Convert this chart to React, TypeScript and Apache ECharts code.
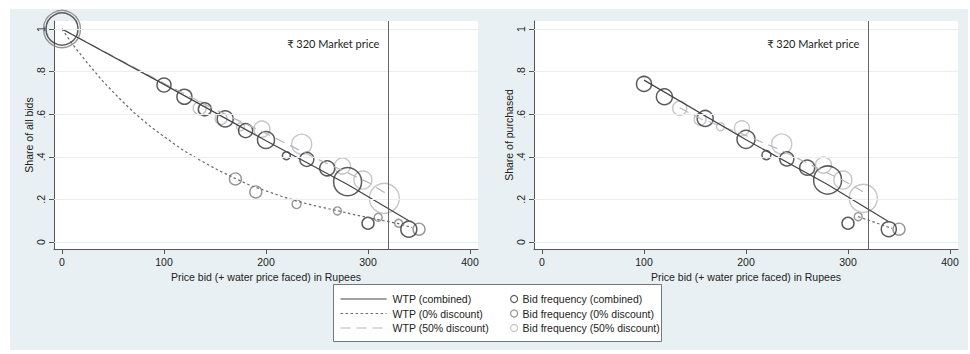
import React, { useEffect, useRef } from "react";
import * as echarts from "echarts";

// ---------- data ----------
const xTicks = [0, 100, 200, 300, 400];
const yTicks = [0, 0.2, 0.4, 0.6, 0.8, 1];
const yTickLabels = ["0", ".2", ".4", ".6", ".8", "1"];
const marketPrice = 320;
const marketLabel = "₹ 320 Market price";
const xTitle = "Price bid (+ water price faced) in Rupees";
const leftYTitle = "Share of all bids";
const rightYTitle = "Share of purchased";

const NAME_WTP_C = "WTP (combined)";
const NAME_WTP_0 = "WTP (0% discount)";
const NAME_WTP_50 = "WTP (50% discount)";
const NAME_BID_C = "Bid frequency (combined)";
const NAME_BID_0 = "Bid frequency (0% discount)";
const NAME_BID_50 = "Bid frequency (50% discount)";

// fitted WTP curves [price, share]
const leftCombinedLine = [[0, 1], [100, 0.74], [200, 0.475], [280, 0.27], [340, 0.1]];
const leftZeroLine = [[0, 1], [10, 0.93], [25, 0.84], [40, 0.755], [55, 0.68], [70, 0.61], [86, 0.545], [100, 0.495], [119, 0.43], [135, 0.385], [152, 0.34], [169, 0.3], [185, 0.265], [200, 0.24], [215, 0.215], [230, 0.192], [250, 0.168], [270, 0.147], [285, 0.13], [300, 0.115], [315, 0.1], [330, 0.086], [343, 0.068]];
const leftHalfLine = [[0, 1], [100, 0.745], [150, 0.622], [200, 0.51], [250, 0.39], [280, 0.325], [300, 0.28], [317, 0.23]];
const rightCombinedLine = [[100, 0.76], [200, 0.48], [280, 0.27], [340, 0.095]];
const rightZeroLine = [[310, 0.119], [343, 0.064]];
const rightHalfLine = [[135, 0.63], [155, 0.58], [195, 0.51], [235, 0.43], [275, 0.335], [295, 0.29], [315, 0.235]];

// bid frequency markers [price, share, frequency weight]
const leftCombinedBids = [[0, 1, 32], [100, 0.737, 14], [120, 0.682, 15], [140, 0.623, 13], [160, 0.578, 16], [180, 0.523, 14], [200, 0.479, 17], [220, 0.405, 8], [240, 0.388, 14], [260, 0.346, 15], [280, 0.283, 28], [300, 0.088, 12], [340, 0.06, 16]];
const leftZeroBids = [[0, 1, 37], [170, 0.296, 12], [190, 0.235, 12], [230, 0.178, 9], [270, 0.146, 8], [310, 0.116, 8], [330, 0.088, 8], [350, 0.06, 12]];
const leftHalfBids = [[135, 0.628, 13], [156, 0.58, 12], [175, 0.541, 8], [196, 0.53, 16], [235, 0.459, 20], [275, 0.357, 16], [295, 0.291, 18], [316, 0.205, 30]];
const rightCombinedBids = [[100, 0.742, 15], [120, 0.682, 16], [160, 0.58, 16], [200, 0.482, 18], [220, 0.408, 9], [240, 0.39, 14], [260, 0.349, 15], [280, 0.291, 28], [300, 0.088, 12], [340, 0.06, 15]];
const rightZeroBids = [[310, 0.119, 8], [350, 0.06, 12]];
const rightHalfBids = [[135, 0.628, 14], [155, 0.576, 12], [175, 0.541, 8], [196, 0.534, 15], [235, 0.46, 20], [276, 0.361, 16], [295, 0.291, 18], [315, 0.205, 28]];

// ---------- style ----------
const FONT = "'Liberation Sans', Arial, Helvetica, sans-serif";
const BG = "#e9f0f3";
const GRIDC = "#e8eff2";
const AXC = "#555";
const DARK = "#333";
const MID = "#7c7c7c";
const LIGHT = "#b8b8b8";

const X_MIN = -7.84;
const X_MAX = 407.84;
const Y_MIN = -0.0329;
const Y_MAX = 1.0376;

function panelSeries(i: number, lines: any, bids: any) {
  const common = { xAxisIndex: i, yAxisIndex: i, silent: true, animation: false };
  const scatter = (name: string, data: number[][], color: string, bw: number) => ({
    ...common,
    type: "scatter",
    name,
    z: 2,
    data,
    symbol: "circle",
    symbolSize: (v: number[]) => v[2],
    itemStyle: { color: "rgba(0,0,0,0)", borderColor: color, borderWidth: bw },
    emphasis: { disabled: true },
  });
  const line = (name: string, data: number[][], color: string, type: any, extra: any = {}) => ({
    ...common,
    type: "line",
    name,
    z: 3,
    data,
    symbol: "none",
    showSymbol: false,
    lineStyle: { color, width: 1.2, type },
    itemStyle: { color },
    emphasis: { disabled: true },
    ...extra,
  });
  return [
    {
      ...common,
      type: "line",
      name: "grid" + i,
      z: 1,
      data: [],
      markLine: {
        silent: true,
        symbol: ["none", "none"],
        label: { show: false },
        lineStyle: { color: GRIDC, width: 1, type: "solid" },
        data: yTicks.map((v) => ({ yAxis: v })),
      },
    },
    scatter(NAME_BID_0, bids.zero, MID, 1.4),
    scatter(NAME_BID_50, bids.half, LIGHT, 1.4),
    scatter(NAME_BID_C, bids.combined, DARK, 1.5),
    line(NAME_WTP_50, lines.half, LIGHT, [10, 6]),
    line(NAME_WTP_0, lines.zero, "#6a6a6a", [2.5, 2.5]),
    line(NAME_WTP_C, lines.combined, "#444", "solid", {
      markLine: {
        silent: true,
        symbol: ["none", "none"],
        label: { show: false },
        lineStyle: { color: "#666", width: 1, type: "solid" },
        data: [{ xAxis: marketPrice }],
      },
      markPoint: {
        silent: true,
        symbol: "circle",
        symbolSize: 0,
        data: [
          {
            coord: [marketPrice, 0.934],
            label: {
              show: true,
              formatter: marketLabel,
              position: "left",
              distance: 9,
              color: "#222",
              fontSize: 11,
              fontFamily: "Lato, 'Noto Sans', 'Open Sans', sans-serif",
            },
          },
        ],
      },
    }),
  ];
}

function xAxis(i: number) {
  return {
    type: "value",
    gridIndex: i,
    min: X_MIN,
    max: X_MAX,
    name: xTitle,
    nameLocation: "middle",
    nameGap: 19,
    nameTextStyle: { color: "#222", fontSize: 10.5, fontFamily: FONT },
    axisLine: { show: true, onZero: false, lineStyle: { color: AXC, width: 1 } },
    axisTick: { show: true, length: 5, lineStyle: { color: AXC }, customValues: xTicks },
    axisLabel: { color: "#222", fontSize: 10.5, fontFamily: FONT, margin: 7, customValues: xTicks, formatter: (v: number) => String(v) },
    splitLine: { show: false },
  };
}

function yAxis(i: number, title: string) {
  return {
    type: "value",
    gridIndex: i,
    min: Y_MIN,
    max: Y_MAX,
    name: title,
    nameLocation: "middle",
    nameGap: 19,
    nameRotate: 90,
    nameTextStyle: { color: "#222", fontSize: 10.5, fontFamily: FONT },
    axisLine: { show: true, onZero: false, lineStyle: { color: AXC, width: 1 } },
    axisTick: { show: true, length: 5, lineStyle: { color: AXC }, customValues: yTicks },
    axisLabel: {
      color: "#222",
      fontSize: 10.5,
      fontFamily: FONT,
      margin: 8,
      rotate: 90,
      customValues: yTicks,
      formatter: (v: number) => {
        let best = 0;
        for (let k = 0; k < yTicks.length; k++) if (Math.abs(yTicks[k] - v) < Math.abs(yTicks[best] - v)) best = k;
        return yTickLabels[best];
      },
    },
    splitLine: { show: false },
  };
}

export default function App() {
  const ref = useRef<HTMLDivElement>(null);
  useEffect(() => {
    if (!ref.current) return;
    const chart = echarts.init(ref.current, undefined, { renderer: "svg" });
    const legendText = { color: "#222", fontSize: 10.5, fontFamily: FONT, lineHeight: 14.5 };
    const option: any = {
      animation: false,
      backgroundColor: "#ffffff",
      textStyle: { fontFamily: FONT },
      graphic: [
        { type: "rect", z: -100, silent: true, shape: { x: 10, y: 9, width: 958, height: 341 }, style: { fill: BG } },
        { type: "rect", z: 1, silent: true, shape: { x: 333.5, y: 284.5, width: 328, height: 57 }, style: { fill: "#ffffff", stroke: "#777", lineWidth: 1 } },
      ],
      grid: [
        { left: 54, top: 21, width: 424, height: 228, show: true, backgroundColor: "#ffffff", borderWidth: 0, containLabel: false },
        { left: 534, top: 21, width: 424, height: 228, show: true, backgroundColor: "#ffffff", borderWidth: 0, containLabel: false },
      ],
      xAxis: [xAxis(0), xAxis(1)],
      yAxis: [yAxis(0, leftYTitle), yAxis(1, rightYTitle)],
      legend: [
        {
          data: [NAME_WTP_C, NAME_WTP_0, NAME_WTP_50],
          orient: "vertical",
          left: 340,
          top: 291.75,
          padding: 0,
          itemWidth: 46,
          itemHeight: 10,
          itemGap: 0,
          selectedMode: false,
          itemStyle: { color: "rgba(0,0,0,0)", borderWidth: 0, opacity: 0 },
          lineStyle: { width: 1.2 },
          textStyle: { ...legendText, padding: [0, 0, 0, 1] },
          z: 5,
        },
        {
          data: [NAME_BID_C, NAME_BID_0, NAME_BID_50],
          orient: "vertical",
          left: 510,
          top: 291.75,
          padding: 0,
          itemWidth: 7,
          itemHeight: 7,
          itemGap: 0,
          selectedMode: false,
          itemStyle: { borderWidth: 1.2 },
          textStyle: legendText,
          z: 5,
        },
      ],
      series: [
        ...panelSeries(0, { combined: leftCombinedLine, zero: leftZeroLine, half: leftHalfLine }, { combined: leftCombinedBids, zero: leftZeroBids, half: leftHalfBids }),
        ...panelSeries(1, { combined: rightCombinedLine, zero: rightZeroLine, half: rightHalfLine }, { combined: rightCombinedBids, zero: rightZeroBids, half: rightHalfBids }),
      ],
    };
    chart.setOption(option);
    return () => chart.dispose();
  }, []);
  return <div ref={ref} style={{ position: "fixed", left: 0, top: 0, width: 970, height: 354 }} />;
}
